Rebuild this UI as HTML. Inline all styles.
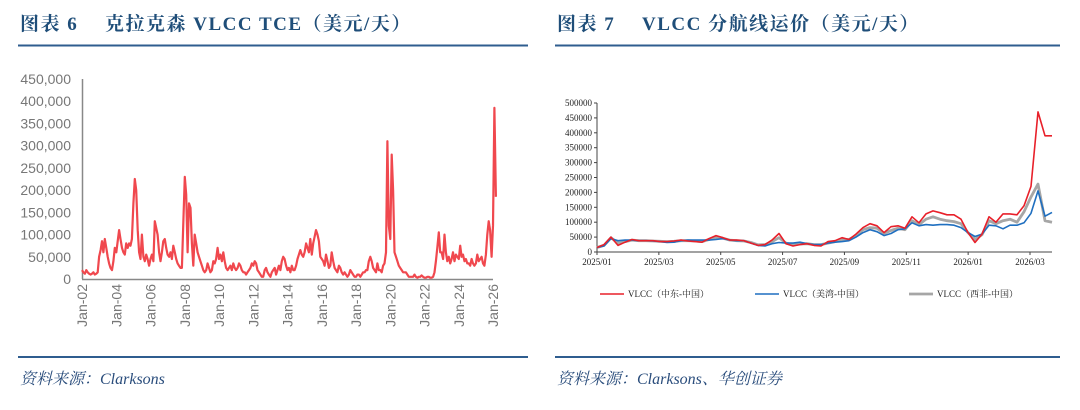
<!DOCTYPE html>
<html><head><meta charset="utf-8"><style>
body{margin:0;background:#fff;width:1080px;height:410px;overflow:hidden;}
svg{display:block}
.t{font-family:"Liberation Serif","Noto Serif CJK SC",serif;font-weight:bold;font-size:19px;fill:#1f4e79;letter-spacing:1.5px}
.f{font-family:"Liberation Serif","Noto Serif CJK SC",serif;font-style:italic;font-size:16px;fill:#2a4d7c}
.ax{font-family:"Liberation Sans",sans-serif;font-size:14px;fill:#777}
.ax2{font-family:"Liberation Serif",serif;font-size:9px;fill:#222}
.lg{font-family:"Liberation Serif","Noto Serif CJK SC",serif;font-size:9px;fill:#222}
</style></head><body>
<svg id="s" width="1080" height="410">
<text class="t" x="20" y="30" xml:space="preserve">图表 6　 克拉克森 VLCC TCE（美元/天）</text>
<line x1="18" y1="45.5" x2="528" y2="45.5" stroke="#2f5d8f" stroke-width="2"/>
<text class="t" x="557" y="30" xml:space="preserve">图表 7　 VLCC 分航线运价（美元/天）</text>
<line x1="555" y1="45.5" x2="1060" y2="45.5" stroke="#2f5d8f" stroke-width="2"/>
<line x1="18" y1="357" x2="528" y2="357" stroke="#2f5d8f" stroke-width="2"/>
<line x1="555" y1="357" x2="1060" y2="357" stroke="#2f5d8f" stroke-width="2"/>
<text class="f" x="20" y="384">资料来源：Clarksons</text>
<text class="f" x="557" y="384">资料来源：Clarksons、华创证券</text>
<g id="L"></g>
<g id="R"></g>
</svg>
<script>
// Left chart data: monthly TCE (thousand $/day), Jan-02 onward
const tceValues=[20,15,12,20,15,12,10,12,15,10,12,15,
50,65,85,60,90,70,50,35,25,20,40,70,
60,85,110,90,70,60,55,80,70,80,75,90,
170,225,200,110,60,45,100,50,40,55,45,30,
45,55,40,130,115,100,60,40,60,85,90,70,
55,50,60,45,75,60,45,35,30,25,25,125,
230,190,60,170,160,80,30,100,80,60,50,40,
30,20,15,20,35,25,15,20,40,35,45,70,
45,55,40,60,40,25,20,25,30,20,35,25,
20,25,35,30,20,15,15,10,15,20,25,35,
30,40,35,20,15,10,5,5,20,25,15,10,
5,15,20,25,10,20,30,20,40,50,45,30,
20,25,15,30,20,20,30,45,55,65,55,50,
60,80,70,60,90,55,80,95,110,100,85,50,
45,40,30,55,40,25,30,60,40,25,20,15,
30,25,15,10,15,10,5,10,20,15,10,5,
5,10,10,5,10,15,15,20,20,40,50,40,
25,20,15,35,20,20,15,30,35,60,310,120,
90,280,200,60,50,40,30,25,20,15,15,15,
10,5,5,5,5,10,5,3,5,5,8,5,
3,3,5,5,3,3,5,15,40,70,105,60,
60,45,100,60,40,50,35,45,60,40,55,50,
45,75,50,55,40,45,35,35,30,45,35,30,
35,55,40,45,50,35,30,55,100,130,110,50,
120,385,185];
const leftYTicks=[0,50000,100000,150000,200000,250000,300000,350000,400000,450000];
const leftYLabels=["0","50,000","100,000","150,000","200,000","250,000","300,000","350,000","400,000","450,000"];
const leftXLabels=["Jan-02","Jan-04","Jan-06","Jan-08","Jan-10","Jan-12","Jan-14","Jan-16","Jan-18","Jan-20","Jan-22","Jan-24","Jan-26"];

// Right chart data: weekly rates (thousand $/day) from 2025/01
const meChina=[15,25,50,22,33,42,38,38,38,35,35,37,40,37,35,33,45,55,48,40,40,38,30,22,25,40,62,28,20,25,28,22,20,35,38,48,42,60,82,95,88,65,85,88,80,118,98,128,138,132,125,125,110,65,32,60,118,100,128,128,125,155,220,470,390,390];
const usgChina=[15,20,45,38,40,40,38,38,37,35,32,33,38,40,40,40,40,42,45,40,38,38,30,22,20,28,32,30,30,33,28,25,25,30,33,35,38,50,65,75,68,55,62,75,78,98,88,92,90,92,92,90,82,65,52,60,90,88,78,90,90,98,130,205,120,133];
const wafChina=[15,22,48,30,35,40,38,38,37,36,35,36,38,38,37,35,42,48,46,40,38,37,32,24,25,35,48,30,25,27,28,25,25,30,35,42,42,55,75,82,80,62,72,80,75,105,92,110,118,110,105,102,95,65,42,58,105,95,105,110,100,135,185,228,105,100];
const rightYTicks=[0,50000,100000,150000,200000,250000,300000,350000,400000,450000,500000];
const rightXLabels=["2025/01","2025/03","2025/05","2025/07","2025/09","2025/11","2026/01","2026/03"];
const seriesNames=["VLCC（中东-中国）","VLCC（美湾-中国）","VLCC（西非-中国）"];

const NS="http://www.w3.org/2000/svg";
function mk(p,tag,a){const e=document.createElementNS(NS,tag);for(const k in a)e.setAttribute(k,a[k]);p.appendChild(e);return e;}
// Left
const L=document.getElementById('L');
const lx=i=>82+i*(411/288), ly=v=>279-v/450000*200;
mk(L,'line',{x1:82.5,y1:79,x2:82.5,y2:279,stroke:'#888','stroke-width':1.5});
mk(L,'line',{x1:82,y1:279.5,x2:493,y2:279.5,stroke:'#888','stroke-width':1.5});
leftYTicks.forEach((v,i)=>{const t=mk(L,'text',{x:71,y:ly(v)+5,'text-anchor':'end',class:'ax'});t.textContent=leftYLabels[i];

});
leftXLabels.forEach((s,i)=>{const x=lx(i*24)+5;const t=mk(L,'text',{x:0,y:0,'text-anchor':'end',class:'ax',transform:`translate(${x},284) rotate(-90)`});t.textContent=s;

});
const lp=mk(L,'polyline',{points:tceValues.map((v,i)=>lx(i).toFixed(1)+','+ly(v*1000).toFixed(1)).join(' '),fill:'none',stroke:'#f0484e','stroke-width':2.2,'stroke-linejoin':'round'});


// Right
const R=document.getElementById('R');
const rx=i=>597+i*7, ry=v=>252-v/500000*149;
mk(R,'line',{x1:597,y1:103,x2:597,y2:252,stroke:'#444','stroke-width':1});
mk(R,'line',{x1:597,y1:252,x2:1052,y2:252,stroke:'#444','stroke-width':1});
rightYTicks.forEach(v=>{mk(R,'line',{x1:594,y1:ry(v),x2:597,y2:ry(v),stroke:'#444'});const t=mk(R,'text',{x:592,y:ry(v)+3,'text-anchor':'end',class:'ax2'});t.textContent=String(v);

});
rightXLabels.forEach((s,i)=>{const x=597+i*(433/7);mk(R,'line',{x1:x,y1:252,x2:x,y2:255,stroke:'#444'});const t=mk(R,'text',{x:x,y:265,'text-anchor':'middle',class:'ax2'});t.textContent=s;

});
const cols=['#e8202a','#1f6fc0','#a6a6a6'], ws=[1.6,1.6,2.8];
const order=[2,1,0];const data=[meChina,usgChina,wafChina];
order.forEach(k=>{const p=mk(R,'polyline',{points:data[k].map((v,i)=>rx(i)+','+ry(v*1000).toFixed(1)).join(' '),fill:'none',stroke:cols[k],'stroke-width':ws[k],'stroke-linejoin':'round'});

});
const lgx=[600,755,909];
seriesNames.forEach((n,k)=>{const g=mk(R,'g',{});


mk(g,'line',{x1:lgx[k],y1:294,x2:lgx[k]+24,y2:294,stroke:cols[k],'stroke-width':ws[k]});
const t=mk(g,'text',{x:lgx[k]+28,y:297,class:'lg'});t.textContent=n;});
</script>
</body></html>
